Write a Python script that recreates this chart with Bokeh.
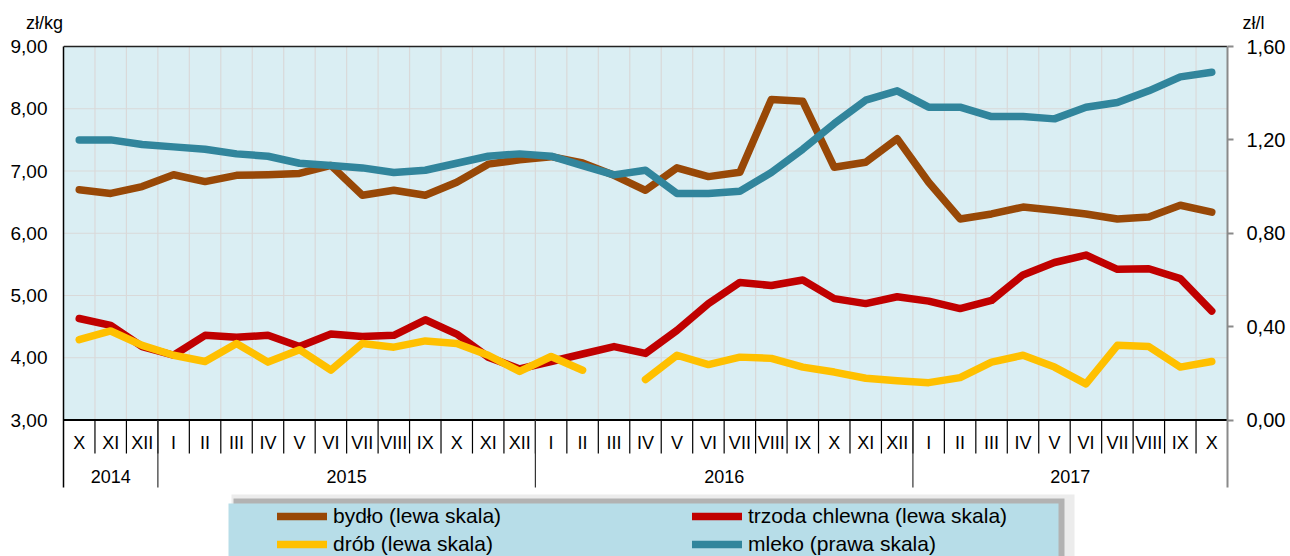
import numpy as np
from bokeh.plotting import figure
from bokeh.layouts import column
from bokeh.models import (Range1d, LinearAxis, FixedTicker, Legend, LegendItem,
                          CustomJSTickFormatter)
from bokeh.embed import file_html
from bokeh.resources import INLINE
from bokeh.core.properties import value

# ---------------- data ----------------
months = ["X", "XI", "XII",
          "I", "II", "III", "IV", "V", "VI", "VII", "VIII", "IX", "X", "XI", "XII",
          "I", "II", "III", "IV", "V", "VI", "VII", "VIII", "IX", "X", "XI", "XII",
          "I", "II", "III", "IV", "V", "VI", "VII", "VIII", "IX", "X"]
years = ["2014", "2015", "2016", "2017"]

bydlo = [6.70, 6.64, 6.75, 6.94, 6.83, 6.93, 6.94, 6.96, 7.09, 6.61, 6.69, 6.61,
         6.82, 7.11, 7.18, 7.23, 7.13, 6.93, 6.69, 7.05, 6.91, 6.98, 8.15, 8.12,
         7.06, 7.14, 7.52, 6.82, 6.23, 6.31, 6.42, 6.37, 6.31, 6.23, 6.26, 6.45, 6.34]

trzoda = [4.63, 4.52, 4.18, 4.04, 4.36, 4.33, 4.36, 4.18, 4.38, 4.34, 4.36, 4.61,
          4.38, 4.01, 3.82, 3.94, 4.06, 4.18, 4.07, 4.44, 4.87, 5.21, 5.16, 5.25,
          4.95, 4.87, 4.98, 4.91, 4.79, 4.92, 5.33, 5.53, 5.65, 5.42, 5.43, 5.27, 4.75]

drob = [4.29, 4.43, 4.20, 4.04, 3.94, 4.23, 3.93, 4.13, 3.80, 4.23, 4.17, 4.27,
        4.23, 4.04, 3.78, 4.02, 3.80, float("nan"), 3.65, 4.04, 3.89, 4.01, 3.99, 3.85,
        3.77, 3.67, 3.63, 3.60, 3.68, 3.93, 4.04, 3.85, 3.58, 4.20, 4.18, 3.85, 3.94]

mleko = [1.20, 1.20, 1.18, 1.17, 1.16, 1.14, 1.13, 1.10, 1.09, 1.08, 1.06, 1.07,
         1.10, 1.13, 1.14, 1.13, 1.09, 1.05, 1.07, 0.97, 0.97, 0.98, 1.06, 1.16,
         1.27, 1.37, 1.41, 1.34, 1.34, 1.30, 1.30, 1.29, 1.34, 1.36, 1.41, 1.47, 1.49]

left_ticks = [3, 4, 5, 6, 7, 8, 9]
right_ticks = [0.0, 0.4, 0.8, 1.2, 1.6]
left_unit = "zł/kg"
right_unit = "zł/l"

series_names = ["bydło (lewa skala)", "trzoda chlewna (lewa skala)",
                "drób (lewa skala)", "mleko (prawa skala)"]
series_colors = ["#984807", "#C00000", "#FFC000", "#31859C"]

# ---------------- geometry (page pixels) ----------------
FONT = "Liberation Sans"
PAGE_W = 1290
HEAD_H = 34                 # header strip with the unit labels
MAIN_H = 556 - HEAD_H
BL, BR = 63, 63
FRAME_W = PAGE_W - BL - BR
n = len(months)
PX_X = FRAME_W / n
L_MIN, L_MAX = left_ticks[0], left_ticks[-1]
R_MIN, R_MAX = right_ticks[0], right_ticks[-1]
PLOT_TOP = 46.0             # page y of the top of the plot area
PLOT_H = 373.5              # px height of the plot area
PPU = PLOT_H / (L_MAX - L_MIN)
FRAME_TOP = HEAD_H + 4      # page y where the frame starts
y_end = L_MAX + (PLOT_TOP - FRAME_TOP) / PPU
y_start = y_end - (556 - FRAME_TOP) / PPU


def to_right(y):
    return R_MIN + (y - L_MIN) * (R_MAX - R_MIN) / (L_MAX - L_MIN)


def y_pg(py):               # page y -> data y
    return L_MAX - (py - PLOT_TOP) / PPU


def x_pg(px):               # page x -> data x
    return (px - BL) / PX_X


# ---------------- header with unit labels ----------------
head = figure(width=PAGE_W, height=HEAD_H, output_backend="svg",
              toolbar_location=None, tools="", title=None,
              x_axis_type=None, y_axis_type=None,
              x_range=Range1d(0, PAGE_W), y_range=Range1d(HEAD_H, 0),
              min_border=0, outline_line_color=None,
              background_fill_color="white", border_fill_color="white")
head.frame_align = False
head.xgrid.visible = False
head.ygrid.visible = False
head.text(x=[BL - 0.5], y=[22], text=[left_unit], text_align="right",
          text_baseline="middle", text_font=value(FONT),
          text_font_size=value("18px"), text_color="black")
head.text(x=[PAGE_W - BR + 15], y=[22], text=[right_unit], text_align="left",
          text_baseline="middle", text_font=value(FONT),
          text_font_size=value("18px"), text_color="black")

# ---------------- main chart ----------------
p = figure(width=PAGE_W, height=MAIN_H, output_backend="svg", toolbar_location=None,
           tools="", title=None, x_axis_type=None, y_axis_type=None,
           x_range=Range1d(0, n), y_range=Range1d(y_start, y_end),
           min_border_left=BL, min_border_right=BR, min_border_top=FRAME_TOP - HEAD_H,
           min_border_bottom=0, background_fill_color="white",
           border_fill_color="white", outline_line_color=None)
p.frame_align = False
p.extra_y_ranges = {"right": Range1d(to_right(y_start), to_right(y_end))}
p.xgrid.visible = False
p.ygrid.visible = False

fmt = CustomJSTickFormatter(code="return tick.toFixed(2).replace('.', ',');")
y_bottom_line = y_pg(487)

left_axis = LinearAxis(ticker=FixedTicker(ticks=left_ticks), formatter=fmt,
                       bounds=(y_bottom_line, L_MAX),
                       major_tick_out=0, major_tick_in=0, minor_tick_out=0,
                       minor_tick_in=0, major_label_standoff=16,
                       axis_line_color="black", axis_line_width=1.5,
                       major_label_text_font=FONT,
                       major_label_text_font_size="19px",
                       major_label_text_color="black")
p.add_layout(left_axis, "left")

right_axis = LinearAxis(y_range_name="right", ticker=FixedTicker(ticks=right_ticks),
                        formatter=fmt, bounds=(to_right(y_bottom_line), R_MAX),
                        major_tick_out=6, major_tick_in=0, minor_tick_out=0,
                        minor_tick_in=0, major_label_standoff=13,
                        axis_line_color="#8a8a8a", axis_line_width=2,
                        major_tick_line_color="#8a8a8a", major_tick_line_width=2,
                        major_label_text_font=FONT,
                        major_label_text_font_size="20px",
                        major_label_text_color="black")
p.add_layout(right_axis, "right")

# plot area background
p.quad(left=0, right=n, bottom=L_MIN, top=L_MAX, fill_color="#DAEEF3",
       line_color=None)

# grid lines
vb = list(range(1, n))
p.segment(x0=vb, y0=[L_MIN] * len(vb), x1=vb, y1=[L_MAX] * len(vb),
          line_color="#d9d9d9", line_width=1.2)
hg = left_ticks[1:-1]
p.segment(x0=[0] * len(hg), y0=hg, x1=[n] * len(hg), y1=hg,
          line_color="#d9d9d9", line_width=1.2)

# top border and x axis line
p.segment(x0=[0, 0], y0=[L_MAX, L_MIN], x1=[n, n], y1=[L_MAX, L_MIN],
          line_color=["#222222", "black"], line_width=[1.5, 2])

# month separators
p.segment(x0=vb, y0=[L_MIN] * len(vb), x1=vb, y1=[y_pg(453)] * len(vb),
          line_color="black", line_width=1.2)
# year separators
year_starts = [i for i, m in enumerate(months) if m == "I"]
p.segment(x0=year_starts, y0=[L_MIN] * len(year_starts), x1=year_starts,
          y1=[y_bottom_line] * len(year_starts), line_color="#333333", line_width=1.2)

# month labels
xs = [i + 0.5 for i in range(n)]
p.text(x=xs, y=[y_pg(442.5)] * n, text=months, text_align="center",
       text_baseline="middle", text_font=value(FONT),
       text_font_size=value("18px"), text_color="black")
# year labels
bounds = [0] + year_starts + [n]
ycent = [(bounds[i] + bounds[i + 1]) / 2 for i in range(len(years))]
p.text(x=ycent, y=[y_pg(476)] * len(years), text=years, text_align="center",
       text_baseline="middle", text_font=value(FONT),
       text_font_size=value("18px"), text_color="black")

# legend box (shadow + body)
lb_bottom = y_start - 1
p.quad(left=x_pg(231), right=x_pg(1074), bottom=lb_bottom, top=y_pg(494),
       fill_color="#ececec", line_color=None)
p.quad(left=x_pg(233), right=x_pg(1064), bottom=lb_bottom, top=y_pg(498),
       fill_color="#b2b2b2", line_color=None)
p.quad(left=x_pg(228), right=x_pg(1058), bottom=lb_bottom, top=y_pg(503),
       fill_color="#B7DDE8", line_color=None)

# data lines
renderers = []
for vals, col, rng in [(bydlo, series_colors[0], "default"),
                       (trzoda, series_colors[1], "default"),
                       (drob, series_colors[2], "default"),
                       (mleko, series_colors[3], "right")]:
    r = p.line(np.array(xs), np.array(vals, dtype=float), line_color=col,
               line_width=7.5, line_cap="round", line_join="round",
               y_range_name=rng)
    renderers.append(r)

common = dict(background_fill_alpha=0, border_line_alpha=0, padding=0, margin=0,
              spacing=4, glyph_width=50, glyph_height=24, label_height=24,
              label_standoff=6, label_text_font=FONT, label_text_font_size="21px",
              label_text_color="black")
legA = Legend(items=[LegendItem(label=series_names[0], renderers=[renderers[0]]),
                     LegendItem(label=series_names[2], renderers=[renderers[2]])],
              location=(277 - BL, 0), **common)
legB = Legend(items=[LegendItem(label=series_names[1], renderers=[renderers[1]]),
                     LegendItem(label=series_names[3], renderers=[renderers[3]])],
              location=(692 - BL, 0), **common)
p.add_layout(legA)
p.add_layout(legB)

open("out.html", "w").write(file_html(column(head, p, spacing=0), INLINE))
